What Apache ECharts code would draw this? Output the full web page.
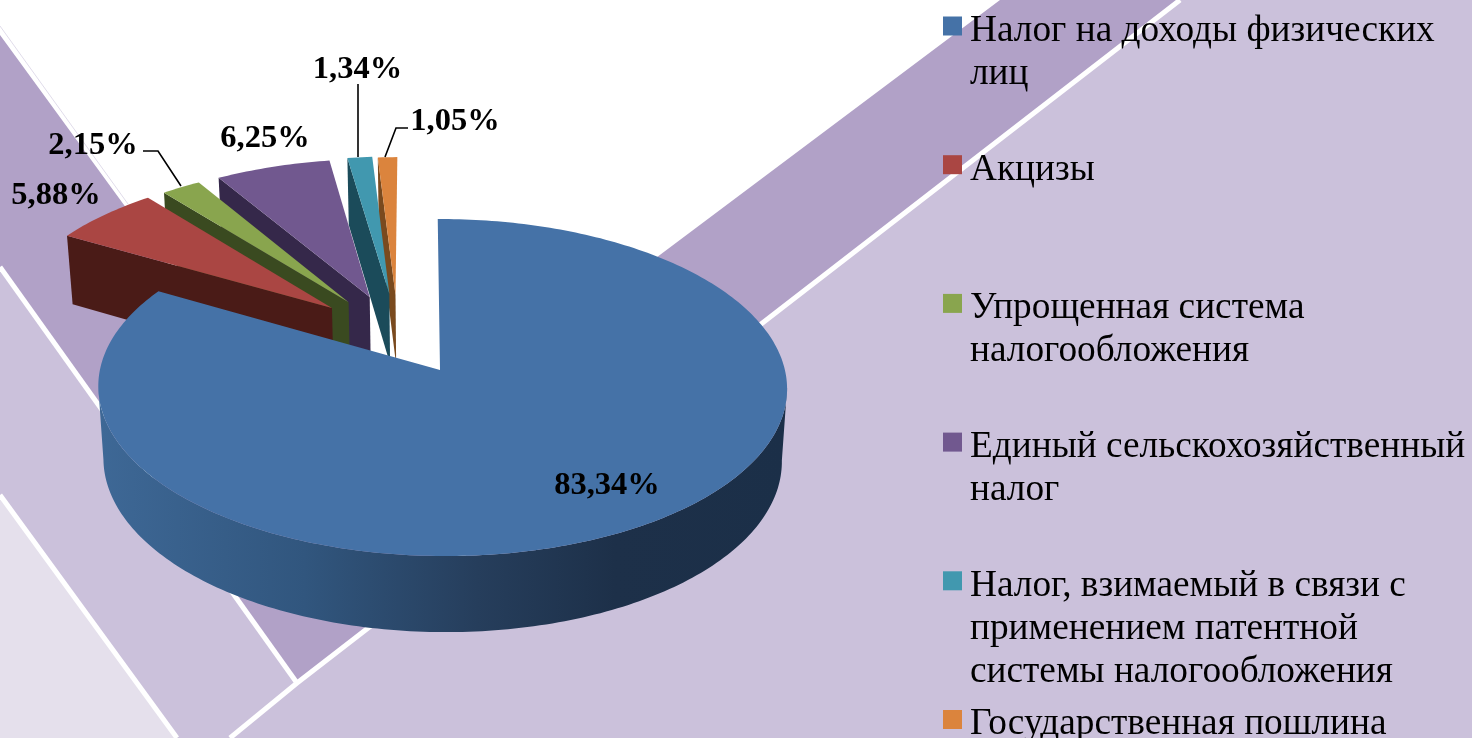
<!DOCTYPE html>
<html>
<head>
<meta charset="utf-8">
<style>
  html, body { margin: 0; padding: 0; background: #fff; }
  #chart { width: 1472px; height: 738px; }
</style>
<script src="https://cdn.jsdelivr.net/npm/echarts@6/dist/echarts.min.js"></script>
</head>
<body>
<div id="chart"></div>
<script>
const categories = [
  'Налог на доходы физических лиц',
  'Акцизы',
  'Упрощенная система налогообложения',
  'Единый сельскохозяйственный налог',
  'Налог, взимаемый в связи с применением патентной системы налогообложения',
  'Государственная пошлина'
];
const legendLines = [
  ['Налог на доходы физических', 'лиц'],
  ['Акцизы'],
  ['Упрощенная система', 'налогообложения'],
  ['Единый сельскохозяйственный', 'налог'],
  ['Налог, взимаемый в связи с', 'применением патентной', 'системы налогообложения'],
  ['Государственная пошлина']
];
const shares = [83.34, 5.88, 2.15, 6.25, 1.34, 1.05];

// top face and wall colours
const topColors = ['#4572a7', '#aa4643', '#89a54e', '#71588f', '#4198af', '#db843d'];
const wallColors = ['#2c4d73', '#4a1b17', '#3a4a20', '#35284a', '#1b4b5a', '#7a4a1e'];
// how far each slice is pulled out of the pie, in pie radii (sideways, backwards)
const pullOut = [[0, 0], [-0.326, 0.387], [-0.276, 0.425], [-0.212, 0.46], [-0.152, 0.48], [-0.133, 0.474]];
// label centres and leader lines, in pixels
const labelPos = [[607, 486], [56, 196], [93, 146], [265, 139], [357.5, 70], [455, 122]];
const leaders = [
  null,
  null,
  [[143, 151], [158, 151], [181, 186]],
  null,
  [[358, 84], [358, 157]],
  [[385, 157], [396, 128], [408, 128]]
];
const LEGEND_FIRST = 31;
const LEGEND_STEP = 138.7;
const LEGEND_LINE = 43;

// perspective of the pie
const CX = 440, CY = 370, RX = 342.5, RY = 166.7, K = 0.104, M = 0.007, DEPTH = 72;

const total = shares.reduce((a, b) => a + b, 0);
const startAngles = [];
shares.reduce((acc, v, i) => { startAngles[i] = acc / total * 360; return acc + v; }, 0);

function project(u, v, low) {
  const w = 1 + K * v - M * u;
  let x = CX + (RX * u - 2.5 * v) / w;
  let y = CY - RY * v / w;
  if (low) {
    x = CX + (x - CX) * 0.985;
    y += DEPTH / Math.sqrt(w);
  }
  return [x, y];
}
function rim(deg, off, low) {
  const a = deg * Math.PI / 180;
  return project(Math.sin(a) + off[0], Math.cos(a) + off[1], low);
}
function arc(from, to, off, low) {
  const pts = [];
  const n = Math.max(2, Math.ceil(Math.abs(to - from)));
  for (let j = 0; j <= n; j++) pts.push(rim(from + (to - from) * j / n, off, low));
  return pts;
}

function renderSlice(params, api) {
  const i = params.seriesIndex;
  const value = api.value(0);
  const from = startAngles[i];
  const to = from + value / total * 360;
  const off = pullOut[i];
  const apex = project(off[0], off[1], false);
  const apexLow = project(off[0], off[1], true);
  const children = [];

  if (i === 0) {
    // outer wall of the big slice, darker to the right
    const top = arc(96, 264, off, false);
    const low = arc(96, 264, off, true).reverse();
    children.push({
      type: 'polygon',
      shape: { points: top.concat(low) },
      style: {
        fill: new echarts.graphic.LinearGradient(98, 0, 787, 0, [
          { offset: 0, color: '#3e6896' },
          { offset: 0.3, color: '#31567e' },
          { offset: 0.55, color: '#263e5c' },
          { offset: 0.75, color: '#1d3049' },
          { offset: 1, color: '#1b2f48' }
        ], true)
      }
    });
  } else {
    const p = rim(from, off, false);
    children.push({
      type: 'polygon',
      shape: { points: [apex, p, rim(from, off, true), apexLow] },
      style: { fill: wallColors[i] }
    });
  }
  children.push({
    type: 'polygon',
    shape: { points: [apex].concat(arc(from, to, off, false)) },
    style: { fill: topColors[i] }
  });
  if (leaders[i]) {
    children.push({
      type: 'polyline',
      shape: { points: leaders[i] },
      style: { stroke: '#000', lineWidth: 1.6, fill: null }
    });
  }
  children.push({
    type: 'text',
    style: {
      x: labelPos[i][0],
      y: labelPos[i][1],
      text: value.toFixed(2).replace('.', ',') + '%',
      fill: '#000',
      font: 'bold 32.5px "Liberation Serif"',
      align: 'center',
      verticalAlign: 'middle'
    }
  });
  return { type: 'group', children };
}

const option = {
  animation: false,
  backgroundColor: '#fff',
  graphic: {
    elements: [
      // right-hand light area
      { type: 'polygon', z: 0, shape: { points: [[1180, 0], [1472, 0], [1472, 738], [230, 738], [297, 683]] }, style: { fill: '#cbc1db' } },
      // dark band
      { type: 'polygon', z: 0, shape: { points: [[0, 35], [337, 497], [1000, 0], [1180, 0], [297, 683], [0, 267]] }, style: { fill: '#b1a1c7' } },
      // lower-left strips
      { type: 'polygon', z: 0, shape: { points: [[0, 267], [297, 683], [230, 738], [177, 738], [0, 495]] }, style: { fill: '#cbc1db' } },
      { type: 'polygon', z: 0, shape: { points: [[0, 495], [177, 738], [0, 738]] }, style: { fill: '#e5e0ec' } },
      // white dividers
      { type: 'polyline', z: 1, shape: { points: [[1180, 0], [297, 683], [230, 738]] }, style: { stroke: '#fff', lineWidth: 5, fill: null } },
      { type: 'polyline', z: 1, shape: { points: [[0, 267], [297, 683]] }, style: { stroke: '#fff', lineWidth: 5, fill: null } },
      { type: 'polyline', z: 1, shape: { points: [[0, 495], [177, 738]] }, style: { stroke: '#fff', lineWidth: 5, fill: null } },
      { type: 'polyline', z: 1, shape: { points: [[0, 26], [128, 204]] }, style: { stroke: '#e0dcea', lineWidth: 1, fill: null } }
    ]
  },
  legend: categories.map((name, i) => ({
    data: [name],
    orient: 'horizontal',
    left: 943,
    top: LEGEND_FIRST + i * LEGEND_STEP - LEGEND_LINE * 2.5,
    padding: 0,
    itemWidth: 19,
    itemHeight: 29,
    // square in the upper part of the icon box so it sits beside the first text line
    icon: 'path://M0 0H19V19H0Z M0 29H0',
    selectedMode: false,
    formatter: () => {
      const lines = legendLines[i].slice();
      while (lines.length < 3) lines.push(' ');
      return [' ', ' '].concat(lines).join('\n');
    },
    textStyle: {
      color: '#000',
      fontFamily: 'Liberation Serif',
      fontSize: 37.3,
      lineHeight: LEGEND_LINE,
      padding: [0, 0, 0, 3]
    }
  })),
  series: categories.map((name, i) => ({
    type: 'custom',
    name,
    coordinateSystem: 'none',
    // back to front: the big slice covers the others, the last slice is furthest back
    z: i === 0 ? 10 : 2 + categories.length - i,
    itemStyle: { color: topColors[i] },
    renderItem: renderSlice,
    data: [[shares[i]]],
    silent: true
  }))
};

const chart = echarts.init(document.getElementById('chart'));
chart.setOption(option);
</script>
</body>
</html>
